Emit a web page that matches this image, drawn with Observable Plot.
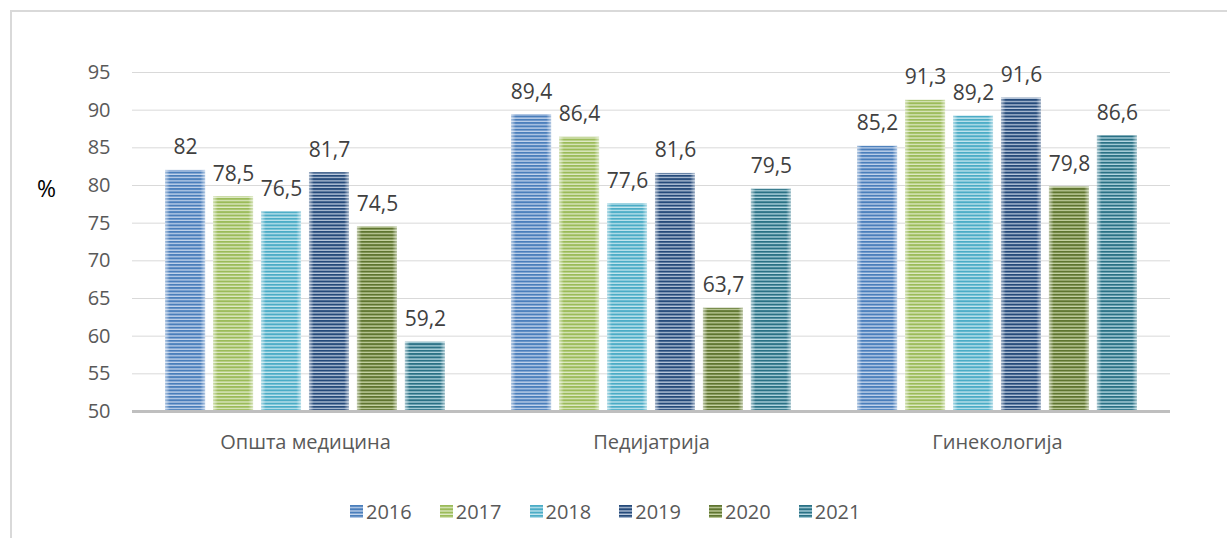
<!DOCTYPE html>
<html>
<head>
<meta charset="utf-8">
<script src="https://cdn.jsdelivr.net/npm/d3@7"></script>
<script src="https://cdn.jsdelivr.net/npm/@observablehq/plot@0.6"></script>
<style>
  html, body { margin: 0; padding: 0; background: #fff; }
  #wrap { position: relative; width: 1227px; height: 538px; overflow: hidden; font-family: "Open Sans", sans-serif; }
  #frame { position: absolute; left: 10px; top: 10px; width: 1400px; height: 700px; border-left: 2px solid #d9d9d9; border-top: 2px solid #d9d9d9; }
  #chart { position: absolute; left: 0; top: 0; }
  #pct { position: absolute; left: 37px; top: 172px; font-size: 23px; color: #000; }
  #legend { position: absolute; left: 350px; top: 498px; display: flex; gap: 28px; font-size: 20px; color: #595959; }
  #legend .item { display: flex; align-items: center; gap: 3px; }
</style>
</head>
<body>
<div id="wrap">
  <div id="frame"></div>
  <div id="chart"></div>
  <div id="pct">%</div>
  <div id="legend"></div>
</div>
<script>
const categories = ["Општа медицина", "Педијатрија", "Гинекологија"];
const years = ["2016", "2017", "2018", "2019", "2020", "2021"];
const v2016 = [82, 89.4, 85.2];
const v2017 = [78.5, 86.4, 91.3];
const v2018 = [76.5, 77.6, 89.2];
const v2019 = [81.7, 81.6, 91.6];
const v2020 = [74.5, 63.7, 79.8];
const v2021 = [59.2, 79.5, 86.6];
const yTicks = [50, 55, 60, 65, 70, 75, 80, 85, 90, 95];
const colors = ["#4a7ebb", "#9bbb59", "#4bacc6", "#254a7a", "#5f7530", "#2a7185"];
const lights = ["#c3d4ec", "#dfeac6", "#c4e6ef", "#b9c8dc", "#c7d3a4", "#b5d8e2"];

const series = [v2016, v2017, v2018, v2019, v2020, v2021];
const data = [];
categories.forEach((c, i) => {
  years.forEach((y, j) => data.push({cat: c, year: y, value: series[j][i]}));
});

const fmt = v => String(v).replace(".", ",");

const plot = Plot.plot({
  width: 1227,
  height: 490,
  marginLeft: 132,
  marginRight: 57,
  marginTop: 72,
  marginBottom: 79,
  style: {fontFamily: "Open Sans, sans-serif", fontSize: "20px", color: "#595959", background: "transparent"},
  fx: {domain: categories, padding: 0, round: false, axis: "bottom", label: null, tickSize: 0, tickPadding: 23},
  x: {domain: years, paddingInner: 0.166, paddingOuter: 0.69, round: false, axis: null},
  y: {domain: [50, 95], ticks: yTicks, tickSize: 0, tickPadding: 22, label: null},
  color: {domain: years, range: years.map(y => `url(#p${y})`)},
  marks: [
    Plot.gridY(yTicks.slice(1), {stroke: "#d9d9d9", strokeOpacity: 1, strokeWidth: 1}),
    Plot.barY(data, {fx: "cat", x: "year", y1: 50, y2: "value", fill: "year"}),
    Plot.barY(data, {fx: "cat", x: "year", y1: 50, y2: "value", fill: "url(#edge)"}),
    Plot.ruleY([50], {stroke: "#bfbfbf", strokeWidth: 3}),
    Plot.text(data, {fx: "cat", x: "year", y: "value", text: d => fmt(d.value), dy: -16, lineAnchor: "bottom", fill: "#404040", fontSize: 21})
  ]
});

const defs = d3.select(plot).insert("defs", ":first-child");
years.forEach((y, i) => {
  const p = defs.append("pattern").attr("id", "p" + y).attr("patternUnits", "userSpaceOnUse")
    .attr("width", 8).attr("height", 3.3);
  p.append("rect").attr("width", 8).attr("height", 3.3).attr("fill", lights[i]);
  p.append("rect").attr("width", 8).attr("height", 2).attr("fill", colors[i]);
});
const g = defs.append("linearGradient").attr("id", "edge").attr("x1", 0).attr("x2", 1).attr("y1", 0).attr("y2", 0);
[[0, 0.55], [0.12, 0], [0.88, 0], [1, 0.55]].forEach(([o, a]) =>
  g.append("stop").attr("offset", o).attr("stop-color", "#fff").attr("stop-opacity", a));

document.getElementById("chart").appendChild(plot);

const legend = document.getElementById("legend");
years.forEach((y, i) => {
  const item = document.createElement("div");
  item.className = "item";
  item.innerHTML = `<svg width="13" height="13"><rect width="13" height="13" fill="url(#p${y})"/></svg><span>${y}</span>`;
  legend.appendChild(item);
});
</script>
</body>
</html>
